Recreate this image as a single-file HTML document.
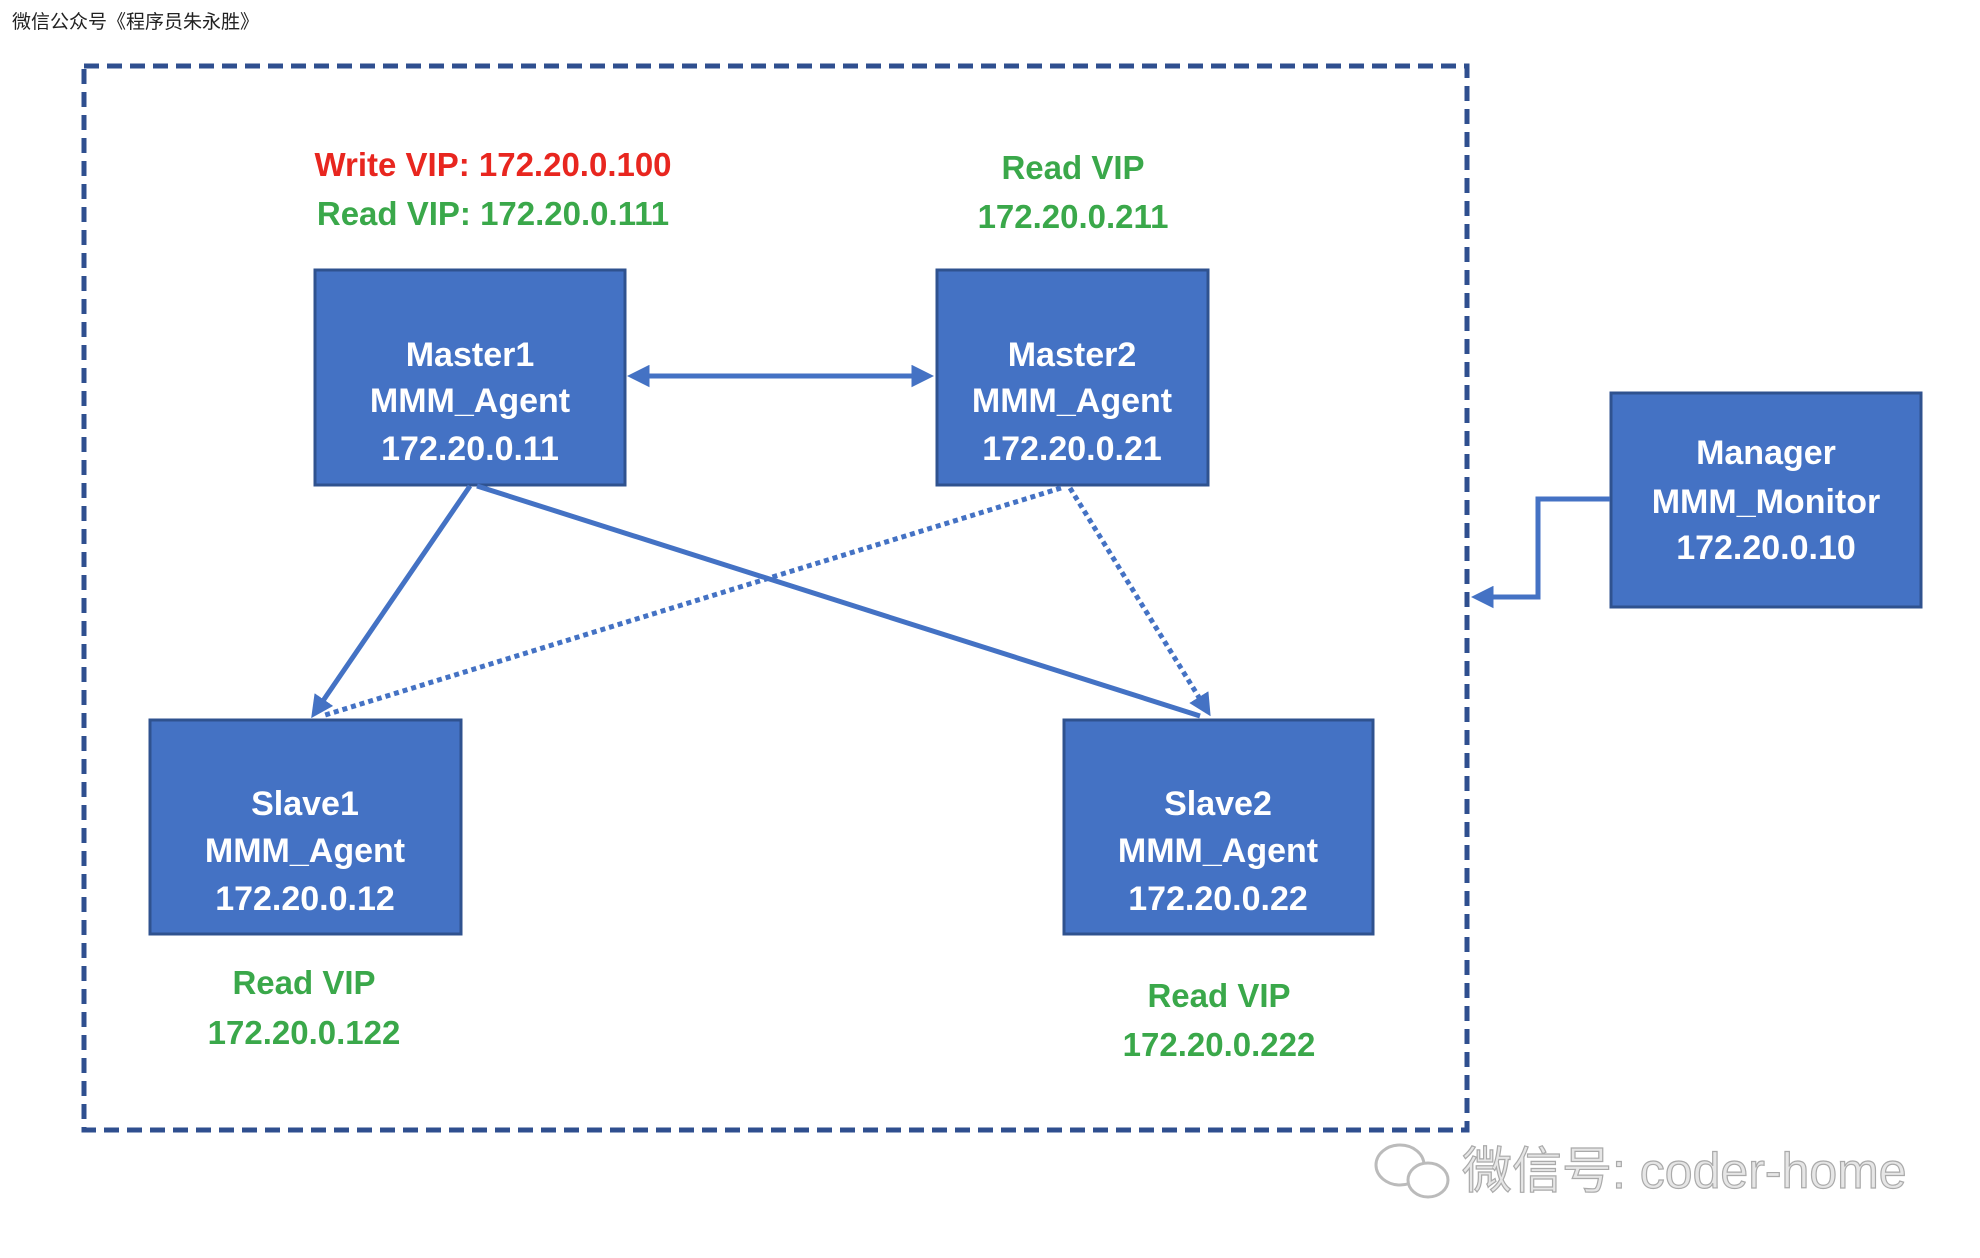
<!DOCTYPE html>
<html><head><meta charset="utf-8"><style>
html,body{margin:0;padding:0;background:#fff;}
body{width:1980px;height:1258px;position:relative;overflow:hidden;font-family:"Liberation Sans","Noto Sans CJK SC",sans-serif;}
</style></head><body>
<svg width="1980" height="1258" viewBox="0 0 1980 1258" xmlns="http://www.w3.org/2000/svg" style="position:absolute;left:0;top:0">
<defs>
<marker id="ah" markerWidth="4.5" markerHeight="4.5" refX="3.5" refY="2.25" orient="auto" markerUnits="strokeWidth">
<path d="M0,0 L4.5,2.25 L0,4.5 Z" fill="#4472c4"/></marker>
<marker id="as" markerWidth="4.5" markerHeight="4.5" refX="1" refY="2.25" orient="auto" markerUnits="strokeWidth">
<path d="M4.5,0 L0,2.25 L4.5,4.5 Z" fill="#4472c4"/></marker>
</defs>
<text x="12" y="28" font-size="19" fill="#222" font-family="Noto Sans CJK SC, sans-serif">微信公众号《程序员朱永胜》</text>
<rect x="84" y="66" width="1383" height="1064" fill="none" stroke="#2f4f8f" stroke-width="5" stroke-dasharray="15 8"/>
<g font-weight="bold" font-size="33" text-anchor="middle">
<text x="493" y="176" fill="#e8261f">Write VIP: 172.20.0.100</text>
<text x="493" y="225" fill="#3aa84a">Read VIP: 172.20.0.111</text>
<text x="1073" y="179" fill="#3aa84a">Read VIP</text>
<text x="1073" y="228" fill="#3aa84a">172.20.0.211</text>
<text x="304" y="994" fill="#3aa84a">Read VIP</text>
<text x="304" y="1044" fill="#3aa84a">172.20.0.122</text>
<text x="1219" y="1007" fill="#3aa84a">Read VIP</text>
<text x="1219" y="1056" fill="#3aa84a">172.20.0.222</text>
</g>
<g fill="#4472c4" stroke="#2f528f" stroke-width="3">
<rect x="315" y="270" width="310" height="215"/>
<rect x="937" y="270" width="271" height="215"/>
<rect x="150" y="720" width="311" height="214"/>
<rect x="1064" y="720" width="309" height="214"/>
<rect x="1611" y="393" width="310" height="214"/>
</g>
<g fill="none" stroke="#4472c4" stroke-width="5">
<line x1="632" y1="376" x2="929" y2="376" marker-start="url(#as)" marker-end="url(#ah)"/>
<line x1="470" y1="486" x2="314" y2="714" marker-end="url(#ah)"/>
<line x1="477" y1="486" x2="1200" y2="716"/>
<line x1="1061" y1="488" x2="322" y2="716" stroke-dasharray="5 4"/>
<line x1="1070" y1="488" x2="1208" y2="712" stroke-dasharray="5 4" marker-end="url(#ah)"/>
<polyline points="1610,499 1538,499 1538,597 1476,597" marker-end="url(#ah)"/>
</g>
<g fill="#fff" font-weight="bold" font-size="34" text-anchor="middle">
<text x="470" y="366">Master1</text><text x="470" y="412">MMM_Agent</text><text x="470" y="460">172.20.0.11</text>
<text x="1072" y="366">Master2</text><text x="1072" y="412">MMM_Agent</text><text x="1072" y="460">172.20.0.21</text>
<text x="305" y="815">Slave1</text><text x="305" y="862">MMM_Agent</text><text x="305" y="910">172.20.0.12</text>
<text x="1218" y="815">Slave2</text><text x="1218" y="862">MMM_Agent</text><text x="1218" y="910">172.20.0.22</text>
<text x="1766" y="464">Manager</text><text x="1766" y="513">MMM_Monitor</text><text x="1766" y="559">172.20.0.10</text>
</g>
<g fill="none" stroke="#bbb" stroke-width="3">
<ellipse cx="1400" cy="1165" rx="24" ry="20"/>
<ellipse cx="1428" cy="1180" rx="20" ry="17" fill="#fff"/>
</g>
<text x="1462" y="1188" font-size="50" fill="#e6e6e6" stroke="#aaa" stroke-width="1.2" font-family="Liberation Sans, Noto Sans CJK SC, sans-serif">微信号: coder-home</text>
</svg>
</body></html>
